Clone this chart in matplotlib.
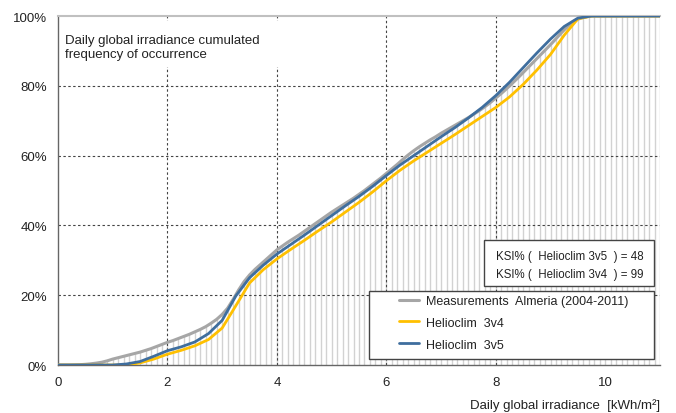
import numpy as np
import matplotlib
matplotlib.use("Agg")
import matplotlib.pyplot as plt
from matplotlib.patches import Rectangle

plt.rcParams['font.family'] = ['Liberation Sans', 'DejaVu Sans']

# Measurements (Almeria 2004-2011), cumulated frequency [%], every 0.1 kWh/m2 from 0 to 11
meas_x = np.round(np.arange(0, 11.01, 0.1), 1)
meas_pct = [
    0, 0, 0, 0.05, 0.1, 0.2, 0.35, 0.55, 0.8, 1.2,
    1.7, 2.1, 2.5, 2.9, 3.3, 3.7, 4.2, 4.7, 5.3, 5.9,
    6.5, 7.0, 7.6, 8.2, 8.8, 9.5, 10.2, 11.0, 12.0, 13.1,
    14.5, 16.3, 18.8, 21.5, 23.9, 25.8, 27.4, 28.8, 30.2, 31.6,
    33.0, 34.1, 35.2, 36.2, 37.2, 38.3, 39.4, 40.5, 41.6, 42.7,
    43.8, 44.8, 45.8, 46.8, 47.8, 48.9, 50.0, 51.2, 52.4, 53.6,
    54.9, 56.2, 57.5, 58.9, 60.2, 61.4, 62.5, 63.5, 64.5, 65.4,
    66.4, 67.3, 68.2, 69.1, 70.0, 70.9, 71.9, 72.9, 74.0, 75.2,
    76.5, 77.8, 79.2, 80.7, 82.2, 83.8, 85.4, 87.0, 88.6, 90.2,
    91.8, 93.5, 95.2, 96.8, 98.2, 99.1, 99.6, 99.9, 100, 100,
    100, 100, 100, 100, 100, 100, 100, 100, 100, 100,
    100,
]

# Satellite estimates, every 0.25 kWh/m2 from 0 to 11
sat_x = np.arange(0, 11.01, 0.25)
hc3v4_pct = [
    0, 0, 0, 0, 0, 0.0, 0.6, 1.7, 3.1, 4.2,
    5.5, 7.3, 10.6, 17.0, 23.5, 27.3, 30.4, 33.1, 35.7, 38.4,
    41.0, 43.8, 46.6, 49.6, 52.8, 55.8, 58.5, 61.0, 63.5, 66.0,
    68.6, 71.2, 73.8, 76.8, 80.4, 84.5, 89.0, 94.5, 99.2, 100,
    100, 100, 100, 100, 100,
]
hc3v5_pct = [
    0, 0, 0, 0, 0, 0.3, 1.0, 2.5, 4.1, 5.2,
    6.6, 9.0, 12.8, 19.8, 25.0, 28.6, 31.8, 34.5, 37.2, 40.0,
    42.8, 45.6, 48.3, 51.2, 54.3, 57.3, 60.0, 62.7, 65.4, 68.0,
    70.8, 73.8, 77.2, 81.0, 85.2, 89.4, 93.4, 97.0, 99.4, 100,
    100, 100, 100, 100, 100,
]

series_labels = ["Measurements  Almeria (2004-2011)", "Helioclim  3v4", "Helioclim  3v5"]
ksi_lines = ["KSI% (  Helioclim 3v5  ) = 48", "KSI% (  Helioclim 3v4  ) = 99"]
x_ticks = [0, 2, 4, 6, 8, 10]
y_ticks = [0, 20, 40, 60, 80, 100]

c_meas = "#a6a6a6"
c_v4 = "#ffc000"
c_v5 = "#3f6e9e"
c_text = "#222222"

fig = plt.figure(figsize=(6.76, 4.14), dpi=100)
ax = fig.add_axes([0.0858, 0.1159, 0.8905, 0.8430])

# drop lines under the measured distribution
ax.vlines(meas_x, 0, meas_pct, color="#d2d2d2", lw=1.0, zorder=1)

# dashed grid
for gx in [2, 4, 6, 8]:
    ax.axvline(gx, color="#444444", lw=0.8, ls=(0, (2.2, 2.2)), zorder=2)
for gy in [20, 40, 60, 80]:
    ax.axhline(gy, color="#444444", lw=0.8, ls=(0, (2.2, 2.2)), zorder=2)

l1, = ax.plot(meas_x, meas_pct, color=c_meas, lw=2.2, zorder=4, solid_capstyle="round")
l2, = ax.plot(sat_x, hc3v4_pct, color=c_v4, lw=2.0, zorder=5, solid_capstyle="round")
l3, = ax.plot(sat_x, hc3v5_pct, color=c_v5, lw=2.0, zorder=6, solid_capstyle="round")

ax.set_xlim(0, 11)
ax.set_ylim(0, 100)
ax.set_xticks(x_ticks)
ax.set_yticks(y_ticks)
ax.set_yticklabels([f"{v}%" for v in y_ticks])
ax.tick_params(length=0, labelsize=9.5, colors=c_text)
ax.tick_params(axis="x", pad=8)
ax.tick_params(axis="y", pad=8)

ax.spines["right"].set_visible(False)
ax.spines["top"].set_color("#c0c0c0")
ax.spines["top"].set_linewidth(1.5)
for s in ["left", "bottom"]:
    ax.spines[s].set_color("#666666")
    ax.spines[s].set_linewidth(1.0)

# caption block in the upper left corner
ax.add_patch(Rectangle((0.003, 0.855), 0.40, 0.13, transform=ax.transAxes,
                       facecolor="white", edgecolor="none", zorder=3))
ax.text(0.012, 0.948, "Daily global irradiance cumulated\nfrequency of occurrence",
        transform=ax.transAxes, fontsize=9.5, color=c_text, va="top", ha="left",
        linespacing=1.25, zorder=7)

# KSI box
ax.add_patch(Rectangle((0.708, 0.226), 0.282, 0.133, transform=ax.transAxes,
                       facecolor="white", edgecolor="#444444", lw=1.0, zorder=8))
ax.text(0.728, 0.312, ksi_lines[0], transform=ax.transAxes, fontsize=8.3,
        color=c_text, va="center", ha="left", zorder=9)
ax.text(0.728, 0.260, ksi_lines[1], transform=ax.transAxes, fontsize=8.3,
        color=c_text, va="center", ha="left", zorder=9)

# legend frame and entries
ax.add_patch(Rectangle((0.5166, 0.0172), 0.4734, 0.1948, transform=ax.transAxes,
                       facecolor="white", edgecolor="#444444", lw=1.0, zorder=9))
leg = ax.legend([l1, l2, l3], series_labels, loc="upper left",
                bbox_to_anchor=(0.5664, 0.2006), fontsize=9, frameon=False,
                handlelength=1.6, handletextpad=0.55, labelspacing=0.78,
                borderpad=0.0, borderaxespad=0.0)
leg.set_zorder(10)
for t in leg.get_texts():
    t.set_color(c_text)

fig.text(0.976, 0.012, "Daily global irradiance  [kWh/m²]", ha="right", va="baseline",
         fontsize=9.5, color=c_text)

fig.savefig("out.png", dpi=100, facecolor="white")
